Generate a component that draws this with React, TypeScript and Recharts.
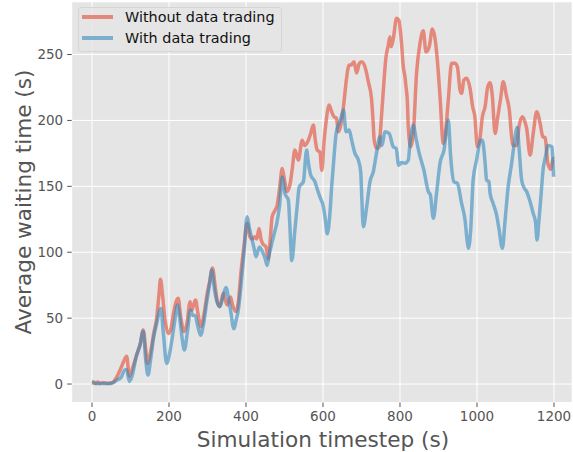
import React from "react";
import { LineChart, Line, XAxis, YAxis, CartesianGrid } from "recharts";

const xTicks = [0, 200, 400, 600, 800, 1000, 1200];
const yTicks = [0, 50, 100, 150, 200, 250];

const seriesNames = ["Without data trading", "With data trading"];

const timesWithout = [
  0, 5, 10, 15, 20, 30, 40, 50, 55, 62, 73, 82, 90, 97, 105, 116, 125, 133, 139, 144,
  152, 160, 168, 174, 178, 183, 190, 198, 205, 212, 218, 224, 230, 239, 246, 255, 259, 264, 269, 275,
  283, 292, 300, 306, 313, 320, 326, 332, 341, 346, 351, 356, 360, 365, 374, 380, 387, 395, 403, 410,
  416, 423, 428, 434, 439, 443, 452, 458, 463, 468, 474, 481, 488, 494, 500, 506, 514, 520, 527, 536,
  546, 552, 562, 568, 575, 580, 585, 592, 597, 603, 608, 616, 622, 628.5, 635, 640, 646, 651, 656, 660,
  668, 673, 680.5, 687.5, 694, 700, 709, 718, 726, 730, 733, 739.5, 746, 750, 755, 763.6, 769.6, 774, 777, 782.6,
  791, 797, 804, 808.6, 813, 815.6, 819, 821.6, 827.8, 834.6, 843, 852, 860.6, 867.5, 876, 884, 891, 897, 904, 912.5,
  917, 925.5, 934, 943, 949, 956, 960, 966, 973, 982, 988.7, 994.5, 1001, 1008, 1014, 1021, 1028, 1034, 1040, 1047,
  1054, 1062, 1068, 1077, 1084, 1090, 1094, 1103, 1109, 1118, 1124.5, 1129, 1138, 1146, 1155, 1164, 1171, 1177, 1184, 1192,
  1198, 1200,
];
const valuesWithout = [
  2, 1.5, 0.5, 1.5, 0.5, 1, 0.5, 1, 1.5, 4, 10.6, 17, 21, 6, 12, 22, 30, 41, 28, 15.7,
  24, 38, 50, 68, 79.6, 68, 48, 38.4, 42, 54, 62, 65, 52, 39.7, 45, 62.5, 56, 60, 63.7, 54,
  43.5, 55, 70, 78, 88, 74, 62, 58.7, 68.8, 64, 60, 63, 66, 60, 55, 62, 85, 105, 122, 111.8,
  110, 111.8, 110, 118, 110, 106.7, 104, 95, 110, 127, 131, 135.8, 150, 163.6, 155, 146, 151, 163, 177.5, 170,
  185, 181, 185, 190, 196.5, 185, 177.5, 176, 162, 185, 199, 211.7, 207, 202.8, 201.6, 191.4, 196, 205, 218, 229,
  242, 242, 244.5, 236, 243, 244.5, 240.7, 229, 216.7, 200, 185, 178.8, 180, 195, 215.5, 248, 257, 263.5, 256, 262,
  277.5, 276, 258.5, 240.7, 233, 225.6, 215.5, 195, 180, 190, 235.7, 258.5, 268, 252, 256, 269.3, 262, 245.8, 218, 182.6,
  187.6, 215.5, 243.3, 243.3, 240.7, 223, 220.5, 230.7, 232, 224.3, 210.4, 202.8, 180, 187, 202.8, 210.4, 225.6, 228.6, 218, 190,
  202.8, 218, 229.4, 218, 208, 187.6, 181, 181, 195, 202.8, 199, 194, 173.7, 190, 206.6, 197.8, 187.6, 187, 167.5, 162.9,
  171.2, 171,
];

const timesWith = [
  0, 10, 20, 30, 40, 50, 58, 65, 75, 85, 90, 97, 103, 116, 125, 133, 139, 145.5, 152, 160,
  168, 179, 185, 194, 202, 210, 216, 222, 228, 234, 240, 248, 256, 262, 268, 274, 282, 290, 298, 305,
  311, 318, 325, 332, 340, 348, 355, 362, 366, 369, 374, 380, 388, 395, 403, 409, 415, 421, 426, 435,
  440, 445, 450, 455, 460, 467, 474, 480, 487, 494, 501, 510, 514, 519, 527, 533, 538.5, 549, 557.5, 562,
  568, 579, 585, 592, 601, 606, 611, 618, 622.5, 628, 634, 640, 646, 653, 660, 668, 674.5, 683, 691.8, 698,
  701, 704.7, 713.5, 722, 730.6, 739.5, 748, 753, 761, 772, 782.6, 790, 796.5, 804, 813, 821.6, 826, 834.6, 841.6, 850,
  862, 873.6, 879, 886.6, 895, 904, 914.3, 925.5, 931.6, 940, 949, 960, 969, 974, 977.5, 983.6, 990, 999, 1009.5, 1014,
  1021, 1025, 1031, 1034, 1042, 1051, 1057, 1066, 1073, 1081, 1090, 1096, 1104.7, 1109, 1116, 1123, 1129, 1138, 1146, 1152,
  1156, 1161, 1166, 1172, 1178, 1184, 1195, 1197, 1199,
];
const valuesWith = [
  1, 0.5, 0.5, 0.5, 0.5, 0.5, 1.5, 3, 4.8, 10.6, 11, 2, 5, 22, 30, 40, 20, 6.8, 18, 35,
  46, 57.4, 40, 15.7, 24, 38, 50, 60, 50, 35, 25.8, 40, 56, 52, 52, 45, 37, 46, 62, 75,
  86.5, 72, 62, 58.7, 66, 73.3, 64, 52, 44, 42, 48, 56, 78, 100, 127, 118, 110.5, 103, 96.6, 104,
  102, 99, 95, 90, 98, 106.7, 115, 122, 135, 157, 144.7, 139.6, 120, 93.6, 116.8, 135, 149.7, 153.5, 177.5, 168,
  158.6, 153.5, 148, 142, 134.5, 125, 114, 129.5, 149.7, 170, 190, 196.5, 201, 208, 191.4, 192.7, 185, 175, 170, 161,
  140, 119.4, 134.5, 153.5, 161, 176, 187.6, 181, 191.4, 190, 180, 178.8, 166, 168, 167.5, 170, 182.6, 196.5, 186.4, 175,
  162.4, 146, 143.4, 125.7, 144.7, 167.5, 177.5, 200.3, 172.5, 153.5, 152.3, 137, 124.4, 110, 103, 116.8, 154.8, 170, 185, 185,
  168, 154.8, 153.5, 144.7, 137, 128.2, 118, 103, 124.4, 149.7, 167.5, 181, 194.7, 180, 154.8, 148.5, 146, 138.3, 129.5, 123,
  109.3, 124.4, 142, 163.6, 172.5, 181, 180, 170, 157.3,
];

const dataWithout = timesWithout.map((t, i) => ({ t, v: valuesWithout[i] }));
const dataWith = timesWith.map((t, i) => ({ t, v: valuesWith[i] }));

const RED = "#E24A33";
const BLUE = "#348ABD";
const FONT = "'DejaVu Sans', sans-serif";

export default function App() {
  return (
    <div style={{ position: "absolute", left: 0, top: 0, width: 573, height: 452, background: "#fff" }}>
      <LineChart
        width={573}
        height={452}
        margin={{ top: 1.8, right: 0.8, bottom: 19.5, left: 11.7 }}
      >
        <CartesianGrid fill="#E5E5E5" stroke="#ffffff" strokeWidth={1} />
        <XAxis
          type="number"
          dataKey="t"
          domain={[-52.7, 1247.3]}
          allowDataOverflow
          ticks={xTicks}
          height={30}
          axisLine={false}
          tickLine={{ stroke: "#555555" }}
          tickSize={4.5}
          tickMargin={4}
          tick={{ fill: "#555555", fontSize: 13.5, fontFamily: FONT }}
        />
        <YAxis
          type="number"
          domain={[-14, 290]}
          allowDataOverflow
          ticks={yTicks}
          width={60}
          axisLine={false}
          tickLine={{ stroke: "#555555" }}
          tickSize={4.5}
          tickMargin={4}
          tick={{ fill: "#555555", fontSize: 13.5, fontFamily: FONT }}
        />
        <Line
          data={dataWithout}
          dataKey="v"
          name={seriesNames[0]}
          type="monotone"
          stroke={RED}
          strokeOpacity={0.6}
          strokeWidth={3.5}
          dot={false}
          isAnimationActive={false}
        />
        <Line
          data={dataWith}
          dataKey="v"
          name={seriesNames[1]}
          type="monotone"
          stroke={BLUE}
          strokeOpacity={0.6}
          strokeWidth={3.5}
          dot={false}
          isAnimationActive={false}
        />
      </LineChart>
      <svg
        width={573}
        height={452}
        style={{ position: "absolute", left: 0, top: 0, pointerEvents: "none" }}
      >
        <text x={323} y={447} textAnchor="middle" fontSize={21.6} fill="#555555" fontFamily={FONT}>
          Simulation timestep (s)
        </text>
        <text
          x={30.5}
          y={202}
          textAnchor="middle"
          fontSize={21.6}
          fill="#555555"
          fontFamily={FONT}
          transform="rotate(-90 30.5 202)"
        >
          Average waiting time (s)
        </text>
      </svg>
      <div
        style={{
          position: "absolute",
          left: 78,
          top: 7,
          width: 204,
          height: 45,
          boxSizing: "border-box",
          border: "1px solid #d4d4d4",
          borderRadius: 3,
          background: "rgba(229,229,229,0.8)",
          fontFamily: FONT,
          fontSize: 14.4,
          color: "#111",
        }}
      >
        {[RED, BLUE].map((c, i) => (
          <div key={i}>
            <div
              style={{
                position: "absolute",
                left: 3,
                top: (i === 0 ? 9 : 30) - 1.75,
                width: 31,
                height: 3.5,
                background: c,
                opacity: 0.6,
              }}
            />
            <div
              style={{
                position: "absolute",
                left: 46,
                top: (i === 0 ? 9 : 30) - 9,
                lineHeight: "18px",
                whiteSpace: "nowrap",
              }}
            >
              {seriesNames[i]}
            </div>
          </div>
        ))}
      </div>
    </div>
  );
}
